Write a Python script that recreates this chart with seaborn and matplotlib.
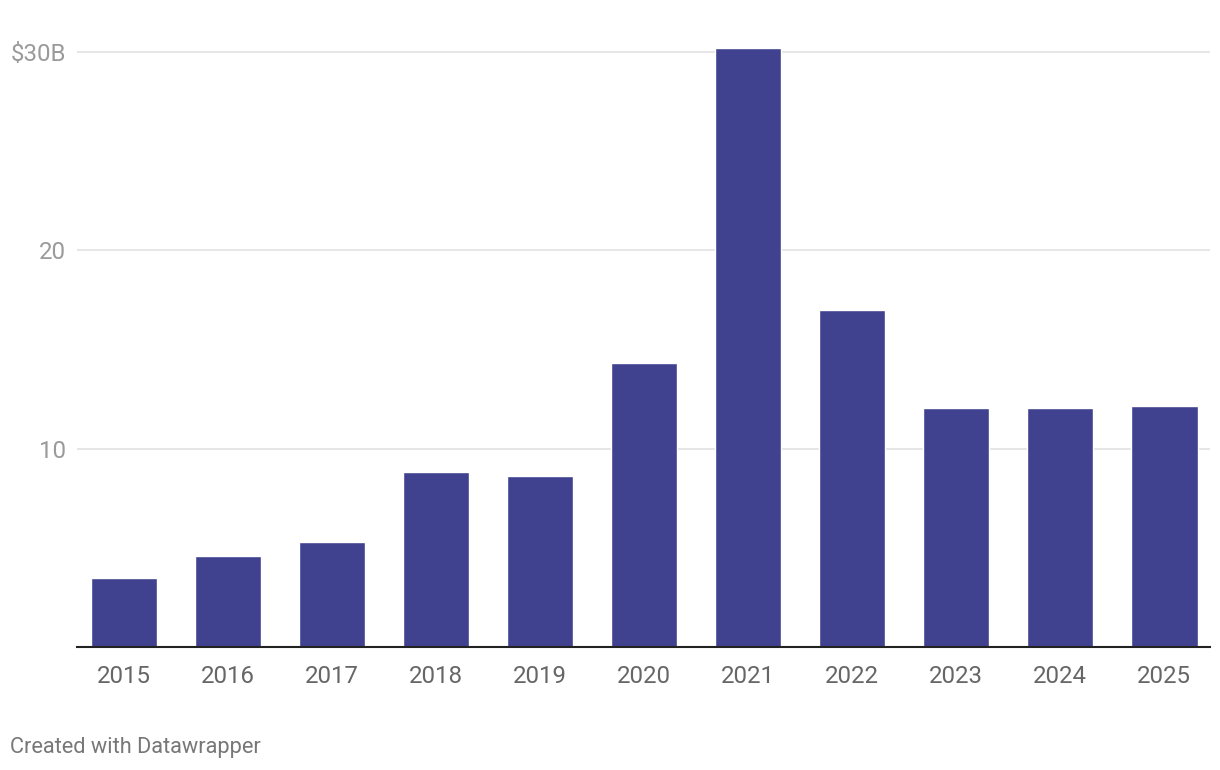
import matplotlib
matplotlib.use("Agg")
import matplotlib.pyplot as plt
import seaborn as sns
import pandas as pd

# ===============================
# DATA
# ===============================
years = ["2015", "2016", "2017", "2018", "2019", "2020",
         "2021", "2022", "2023", "2024", "2025"]
values = [3.5, 4.6, 5.3, 8.8, 8.6, 14.3, 30.2, 17.0, 12.05, 12.05, 12.15]
y_ticks = [10, 20, 30]
y_tick_labels = ["10", "20", "$30B"]

df = pd.DataFrame({"Year": years, "Value": values})

# ===============================
# STYLE
# ===============================
sns.set_style("white")
plt.rcParams["font.family"] = ["Roboto", "DejaVu Sans"]

fig = plt.figure(figsize=(12.2, 7.7), dpi=100)
ax = fig.add_axes([77 / 1220, 1 - 647 / 770, (1210 - 77) / 1220, 0.7984])

sns.barplot(data=df, x="Year", y="Value", color="#404290",
            saturation=1, width=0.64, ax=ax)

ax.set_xlim(-0.45, 10.44)
ax.set_ylim(0, 31)
ax.set_yticks(y_ticks)
ax.set_yticklabels(y_tick_labels)
ax.grid(axis="y", color="#e1e1e1", linewidth=1.2)
ax.set_axisbelow(True)
ax.set_xlabel("")
ax.set_ylabel("")

for s in ["top", "right", "left"]:
    ax.spines[s].set_visible(False)
ax.spines["bottom"].set_color("#222222")
ax.spines["bottom"].set_linewidth(1.5)
ax.spines["bottom"].set_zorder(5)

ax.tick_params(axis="y", length=0, pad=8, labelsize=17.3, labelcolor="#9a9a9a")
ax.tick_params(axis="x", length=0, pad=13, labelsize=17.3, labelcolor="#666666")

fig.text(10 / 1220, 1 - 748 / 770, "Created with Datawrapper",
         fontsize=15.7, color="#777777", va="center", ha="left")

fig.savefig("out.png", dpi=100)
